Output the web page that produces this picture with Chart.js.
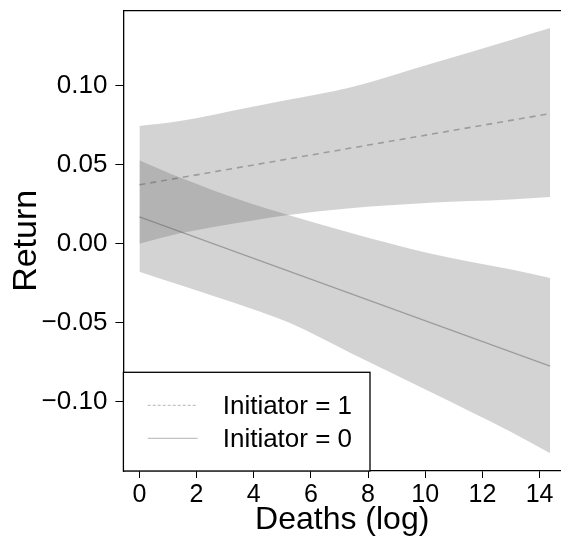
<html>

<head>
    <style>
        body {
            margin: 0;
            background: #fff;
        }
    </style>
    <script src="https://cdn.jsdelivr.net/npm/chart.js@4.4.1/dist/chart.umd.min.js"></script>
</head>

<body>
    <canvas id="canvas" width="561" height="539"></canvas>
    <script>
        // values
        var bandX = [0, 1.42, 3.87, 5.21, 7.37, 10.17, 12.97, 14.37];
        var init1Upper = [0.0746, 0.0778, 0.0865, 0.0912, 0.0990, 0.1140, 0.1290, 0.1367];
        var init1Lower = [0.0000, 0.0066, 0.0145, 0.0182, 0.0225, 0.0260, 0.0281, 0.0296];
        var init0Upper = [0.0530, 0.0420, 0.0256, 0.0182, 0.0070, -0.0061, -0.0162, -0.0217];
        var init0Lower = [-0.0177, -0.0262, -0.0409, -0.0498, -0.0690, -0.0938, -0.1190, -0.1327];

        var lineX = [0, 14.37];
        var init1Line = [0.0374, 0.0825];
        var init0Line = [0.0171, -0.0775];

        var xTicks = [0, 2, 4, 6, 8, 10, 12, 14];
        var yTicks = [-0.10, -0.05, 0, 0.05, 0.10];
        var seriesLabels = ['Initiator = 1', 'Initiator = 0'];

        function pts(xs, ys) {
            return xs.map(function(x, i) { return { x: x, y: ys[i] }; });
        }

        var bandFill = 'rgba(94, 94, 94, 0.273)';
        var lineGrey = 'rgb(180, 180, 180)';
        var font = 'Liberation Sans, Arial, sans-serif';

        // top frame line + legend box inside the plot
        var framePlugin = {
            id: 'frame',
            afterDraw: function(chart) {
                var ctx = chart.ctx;
                var a = chart.chartArea;
                ctx.save();
                ctx.strokeStyle = '#000';
                ctx.lineWidth = 1.3;
                ctx.beginPath();
                ctx.moveTo(a.left, a.top);
                ctx.lineTo(a.right, a.top);
                ctx.stroke();

                // legend
                var bx = a.left, by = a.bottom - 98.7, bw = 246.6, bh = 98.7;
                ctx.fillStyle = '#fff';
                ctx.fillRect(bx, by, bw, bh);
                ctx.strokeRect(bx, by, bw, bh);

                var rows = [
                    { dash: [3, 2], y: by + 33 },
                    { dash: [], y: by + 66 }
                ];
                ctx.font = '26px ' + font;
                ctx.textBaseline = 'middle';
                rows.forEach(function(r, i) {
                    ctx.strokeStyle = 'rgb(180, 180, 180)';
                    ctx.lineWidth = 1;
                    ctx.setLineDash(r.dash);
                    ctx.beginPath();
                    ctx.moveTo(bx + 24.3, r.y);
                    ctx.lineTo(bx + 74.3, r.y);
                    ctx.stroke();
                    ctx.setLineDash([]);
                    ctx.fillStyle = '#000';
                    ctx.fillText(seriesLabels[i], bx + 99.3, r.y + 2);
                });
                ctx.restore();
            }
        };

        var ctx = document.getElementById('canvas').getContext('2d');
        var chart = new Chart(ctx, {
            type: 'line',
            data: {
                datasets: [{
                    label: 'band1 upper',
                    data: pts(bandX, init1Upper),
                    borderWidth: 0,
                    pointRadius: 0,
                    backgroundColor: bandFill,
                    fill: '+1',
                    cubicInterpolationMode: 'monotone'
                }, {
                    label: 'band1 lower',
                    data: pts(bandX, init1Lower),
                    borderWidth: 0,
                    pointRadius: 0,
                    fill: false,
                    cubicInterpolationMode: 'monotone'
                }, {
                    label: 'band0 upper',
                    data: pts(bandX, init0Upper),
                    borderWidth: 0,
                    pointRadius: 0,
                    backgroundColor: bandFill,
                    fill: '+1',
                    cubicInterpolationMode: 'monotone'
                }, {
                    label: 'band0 lower',
                    data: pts(bandX, init0Lower),
                    borderWidth: 0,
                    pointRadius: 0,
                    fill: false,
                    cubicInterpolationMode: 'monotone'
                }, {
                    label: seriesLabels[0],
                    data: pts(lineX, init1Line),
                    borderColor: lineGrey,
                    borderWidth: 1.6,
                    borderDash: [6, 5],
                    pointRadius: 0,
                    fill: false
                }, {
                    label: seriesLabels[1],
                    data: pts(lineX, init0Line),
                    borderColor: lineGrey,
                    borderWidth: 1.4,
                    pointRadius: 0,
                    fill: false
                }]
            },
            options: {
                responsive: false,
                animation: false,
                devicePixelRatio: 1,
                layout: {
                    padding: { top: 10.7, right: 0, left: 0, bottom: 0 }
                },
                plugins: {
                    legend: { display: false },
                    tooltip: { enabled: false }
                },
                scales: {
                    x: {
                        type: 'linear',
                        min: -0.56,
                        max: 14.75,
                        afterBuildTicks: function(scale) {
                            scale.ticks = xTicks.map(function(v) { return { value: v }; });
                        },
                        afterFit: function(scale) {
                            scale.height = 68;
                            scale.paddingLeft = 0;
                            scale.paddingRight = 0;
                        },
                        grid: {
                            drawOnChartArea: false,
                            drawTicks: true,
                            tickLength: 7,
                            color: '#000',
                            lineWidth: 1
                        },
                        border: { display: true, color: '#000', width: 1.3 },
                        ticks: {
                            color: '#000',
                            padding: 2,
                            maxRotation: 0,
                            font: { family: font, size: 25 }
                        },
                        title: {
                            display: true,
                            text: 'Deaths (log)',
                            color: '#000',
                            padding: { top: 0, bottom: 0 },
                            font: { family: font, size: 32 }
                        }
                    },
                    y: {
                        type: 'linear',
                        min: -0.144,
                        max: 0.1477,
                        afterBuildTicks: function(scale) {
                            scale.ticks = yTicks.map(function(v) { return { value: v }; });
                        },
                        afterFit: function(scale) {
                            scale.width = 123.4;
                            scale.paddingTop = 0;
                            scale.paddingBottom = 0;
                        },
                        grid: {
                            drawOnChartArea: false,
                            drawTicks: true,
                            tickLength: 8,
                            color: '#000',
                            lineWidth: 1
                        },
                        border: { display: true, color: '#000', width: 1.3 },
                        ticks: {
                            color: '#000',
                            padding: 8,
                            font: { family: font, size: 26 },
                            callback: function(v) {
                                var s = Math.abs(v).toFixed(2);
                                return v < 0 ? '\u2212' + s : s;
                            }
                        },
                        title: {
                            display: true,
                            text: 'Return',
                            color: '#000',
                            padding: { top: 6, bottom: 0 },
                            font: { family: font, size: 34 }
                        }
                    }
                }
            },
            plugins: [framePlugin]
        });
    </script>
</body>

</html>
